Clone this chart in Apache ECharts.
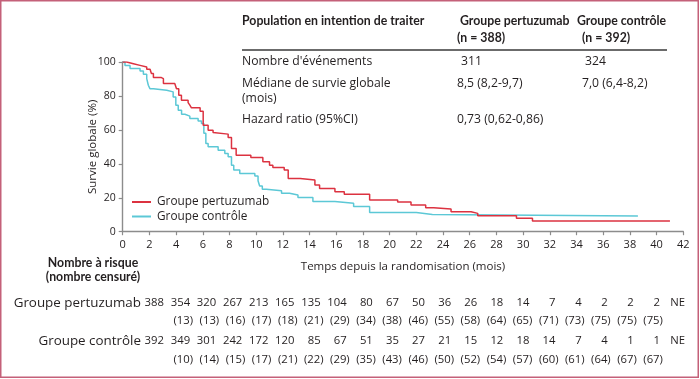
<!DOCTYPE html>
<html><head><meta charset="utf-8">
<script src="https://cdn.jsdelivr.net/npm/echarts@6/dist/echarts.min.js"></script>
<style>html,body{margin:0;padding:0;background:#fff}#c{width:700px;height:379px}</style>
</head><body><div id="c"></div>
<script>
// ---- data ----
const seriesNames = ['Groupe pertuzumab', 'Groupe contrôle'];
// Kaplan-Meier steps: [time (months), survival (%)]
const kmPertuzumab = [[0,100],[0.3,99],[0.8,98],[1.3,97],[1.8,95.7],[2.05,94.7],[2.15,93.2],[2.3,90.8],[2.9,90.2],[3.05,87.3],[3.9,86.7],[4.03,84.3],[4.2,80.4],[4.4,77.5],[4.9,76.1],[5.03,74.6],[5.15,73],[5.8,71],[6.03,62.8],[6.4,59.8],[6.77,58.5],[6.9,57.5],[7.9,55.5],[8.15,49],[8.5,45.1],[9.6,43.7],[10.5,41.2],[11.0,39.2],[11.25,37.9],[12.1,36.4],[12.4,31.4],[13.3,30.4],[14.4,27.5],[14.75,25.5],[15.9,23.6],[16.6,22.1],[18.5,18.7],[20.6,17.5],[21.6,15.7],[22.7,14.1],[23.3,13.4],[24.6,11.8],[26.1,10.8],[26.6,9.4],[29.5,7.9],[30.7,6.3],[41.0,6.3]];
const kmControle = [[0,100],[0.17,98],[0.55,96.1],[1.3,94.7],[1.55,92.8],[1.8,90.2],[1.92,86.3],[2.04,84.3],[2.3,83.4],[3.3,82.4],[3.78,79.4],[3.98,74.5],[4.16,71.6],[4.41,69.2],[4.66,68.1],[5.03,66.7],[5.65,65.3],[5.9,63.7],[6.08,58],[6.23,52],[6.4,50],[7.15,48],[7.65,46.1],[7.9,44.1],[8.15,39.2],[8.32,36.3],[8.77,34.3],[9.9,32.8],[10.14,30],[10.26,26.9],[10.46,25],[10.76,24.2],[11.9,22.6],[12.5,21.6],[13.13,20.1],[14.25,17.8],[15.9,16.8],[17.3,14.8],[18.5,11.3],[22.0,10.2],[23.2,9.3],[38.6,9.3]];
// Number at risk (every 2 months from 0) and number censored (from month 2)
const riskPertuzumab = ['388','354','320','267','213','165','135','104','80','67','50','36','26','18','14','7','4','2','2','2','NE'];
const censPertuzumab = ['13','13','16','17','18','21','29','34','38','46','55','58','64','65','71','73','75','75','75'];
const riskControle = ['392','349','301','242','172','120','85','67','51','35','27','21','15','12','18','14','7','4','1','1','NE'];
const censControle = ['10','14','15','17','21','22','29','35','43','46','50','52','54','57','60','61','64','67','67'];
// Summary table
const tableHeader = ['Population en intention de traiter', 'Groupe pertuzumab', 'Groupe contrôle'];
const tableN = ['(n = 388)', '(n = 392)'];
const tableRows = [
  ["Nombre d'événements", '311', '324'],
  ['Médiane de survie globale\n(mois)', '8,5 (8,2-9,7)', '7,0 (6,4-8,2)'],
  ['Hazard ratio (95%CI)', '0,73 (0,62-0,86)', '']
];
const xTitle = 'Temps depuis la randomisation (mois)';
const yTitle = 'Survie globale (%)';
const riskTitle = 'Nombre à risque\n(nombre censuré)';

// ---- chart ----
const FONT = '"Open Sans", sans-serif';
const TXT = '#231f20';
const RED = '#dc3240';
const CYAN = '#5cc8d6';
const chart = echarts.init(document.getElementById('c'), null, {renderer: 'canvas'});

const g = [];
// outer border
g.push({type: 'rect', shape: {x: 0.75, y: 0.75, width: 697.5, height: 376.5}, style: {fill: 'none', stroke: '#c46079', lineWidth: 1.5}, silent: true});
const REG = '12.2px ' + FONT;
const BOLD = 'bold 12.3px Lato, sans-serif';
const NUM = '11.3px ' + FONT;
function t(x, y, text, opts) {
  g.push({type: 'text', x: x, y: y, style: Object.assign({text: text, fill: TXT, font: REG, textVerticalAlign: 'middle', textAlign: 'left'}, opts || {}), silent: true});
}
// summary table
const colX = [242, 457, 582];
t(colX[0], 21, tableHeader[0], {font: BOLD});
t(colX[1] + 3, 21, tableHeader[1], {font: BOLD});
t(colX[2] - 5, 21, tableHeader[2], {font: BOLD});
t(colX[1], 38.5, tableN[0], {font: BOLD});
t(colX[2], 38.5, tableN[1], {font: BOLD});
g.push({type: 'line', shape: {x1: 242, y1: 50, x2: 667, y2: 50}, style: {stroke: '#3a3a3a', lineWidth: 1.6}, silent: true});
const rowY = [62, 84, 120];
tableRows.forEach(function (r, i) {
  const lines = r[0].split('\n');
  lines.forEach(function (ln, k) { t(colX[0], rowY[i] + k * 15, ln); });
  t(colX[1] + (i === 0 ? 4 : 0), rowY[i], r[1]);
  t(colX[2] + (i === 0 ? 3 : 0), rowY[i], r[2]);
});
// risk table
const riskLines = riskTitle.split('\n');
t(93, 263, riskLines[0], {font: BOLD, textAlign: 'center'});
t(93, 277, riskLines[1], {font: BOLD, textAlign: 'center'});
t(141, 303, seriesNames[0], {font: '13.4px ' + FONT, textAlign: 'right'});
t(141, 341, seriesNames[1], {font: '13.4px ' + FONT, textAlign: 'right'});
const rowYs = [303, 321, 341, 360];
function colRight(i) { return 164 + 26.1 * i; }
function drawRisk(arr, y) {
  arr.forEach(function (v, i) {
    if (v === 'NE') t(685, y, v, {font: NUM, textAlign: 'right'});
    else t(colRight(i), y, v, {font: NUM, textAlign: 'right'});
  });
}
function drawCens(arr, y) {
  arr.forEach(function (v, i) { t(colRight(i + 1) + 3, y, '(' + v + ')', {font: NUM, textAlign: 'right'}); });
}
drawRisk(riskPertuzumab, rowYs[0]);
drawCens(censPertuzumab, rowYs[1]);
drawRisk(riskControle, rowYs[2]);
drawCens(censControle, rowYs[3]);

chart.setOption({
  animation: false,
  backgroundColor: '#fff',
  textStyle: {fontFamily: FONT, color: TXT},
  grid: {left: 122.7, right: 16.7, top: 62, bottom: 147.3, containLabel: false},
  legend: {
    orient: 'vertical', left: 127, top: 191, itemGap: 2.5, itemWidth: 19, itemHeight: 2,
    icon: 'rect', data: seriesNames,
    textStyle: {fontSize: 11.8, color: TXT, fontFamily: FONT, padding: [0, 0, 0, 1]}
  },
  xAxis: {
    type: 'value', min: 0, max: 42, interval: 2,
    name: xTitle, nameLocation: 'middle', nameGap: 29, nameMoveOverlap: false,
    nameTextStyle: {fontSize: 11.5, color: TXT, fontFamily: FONT},
    axisLine: {lineStyle: {color: '#8c8c8c', width: 1.4}},
    axisTick: {show: true, length: 3.5, lineStyle: {color: '#8c8c8c', width: 1.2}},
    axisLabel: {fontSize: 11, color: TXT, margin: 8, fontFamily: FONT},
    splitLine: {show: false}
  },
  yAxis: {
    type: 'value', min: 0, max: 100, interval: 20,
    name: yTitle, nameLocation: 'middle', nameGap: 24, nameMoveOverlap: false,
    nameTextStyle: {fontSize: 11.5, color: TXT, fontFamily: FONT},
    axisLine: {show: true, lineStyle: {color: '#8c8c8c', width: 1.4}},
    axisTick: {show: true, length: 4, lineStyle: {color: '#8c8c8c', width: 1.2}},
    axisLabel: {fontSize: 10.5, color: TXT, margin: 7, fontFamily: FONT},
    splitLine: {show: false}
  },
  series: [
    {name: seriesNames[1], type: 'line', step: 'end', data: kmControle, showSymbol: false, symbol: 'none',
     lineStyle: {color: CYAN, width: 1.5}, itemStyle: {color: CYAN}, z: 2},
    {name: seriesNames[0], type: 'line', step: 'end', data: kmPertuzumab, showSymbol: false, symbol: 'none',
     lineStyle: {color: RED, width: 1.5}, itemStyle: {color: RED}, z: 3}
  ],
  graphic: g
});
</script></body></html>
